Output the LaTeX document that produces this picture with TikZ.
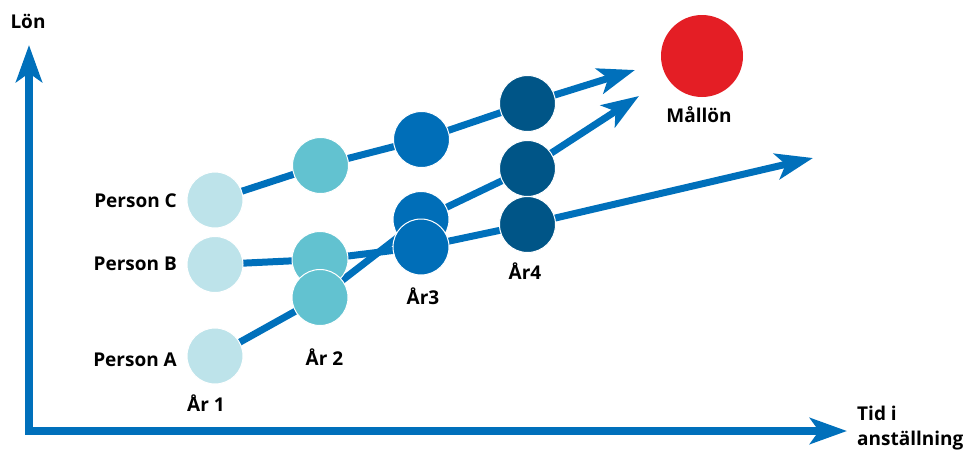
\documentclass[tikz,border=0pt]{standalone}
\usepackage{fontspec}
\setmainfont{Open Sans}
\usetikzlibrary{arrows.meta,backgrounds}
\definecolor{flowblue}{HTML}{0070BB}
\definecolor{yearone}{HTML}{BDE3EA}
\definecolor{yeartwo}{HTML}{62C2D0}
\definecolor{yearthree}{HTML}{006EB8}
\definecolor{yearfour}{HTML}{005587}
\definecolor{goalred}{HTML}{E41E25}
\tikzset{
  dot/.style={circle,minimum size=56pt,inner sep=0pt,draw=white,line width=1pt},
  d1/.style={dot,fill=yearone},
  d2/.style={dot,fill=yeartwo},
  d3/.style={dot,fill=yearthree},
  d4/.style={dot,fill=yearfour},
  lbl/.style={font=\fontsize{19}{25}\selectfont\bfseries,inner sep=0pt},
  track/.style={draw=flowblue,line width=7pt},
  trackarrow/.style={track,-{Stealth[length=37pt,width=26pt,inset=9pt]}},
  axisline/.style={draw=flowblue,line width=7.5pt,line join=miter,
    {Stealth[length=37pt,width=26pt,inset=9pt]}-{Stealth[length=37pt,width=26pt,inset=9pt]}}
}
\begin{document}
\begin{tikzpicture}[x=1pt,y=-1pt]
\useasboundingbox (0,0) rectangle (963,450);

% axes
\coordinate (origin) at (29,431);
\coordinate (ytip) at (29,45);
\coordinate (xtip) at (847,431);
\draw[axisline] (ytip) -- (origin) -- (xtip);
\node[lbl] (lon) at (28,21) {Lön};
\node[lbl,align=left,anchor=west] (tid) at (857,428) {Tid i\\anställning};

% year 1
\node[d1] (c1) at (215,200) {};
\node[d1] (b1) at (215,264.5) {};
\node[d1] (a1) at (215,356) {};
% year 2
\node[d2] (c2) at (320.5,165.5) {};
\node[d2] (b2) at (320,259.5) {};
\node[d2] (a2) at (320,297.5) {};
% year 3
\node[d3] (c3) at (421.5,139.5) {};
\node[d3] (a3) at (421,219.5) {};
\node[d3] (b3) at (421,247) {};
% year 4
\node[d4] (c4) at (527.5,103.5) {};
\node[d4] (a4) at (527.5,168.5) {};
\node[d4] (b4) at (527.5,224.5) {};

% goal
\node[circle,fill=goalred,minimum size=82pt,inner sep=0pt] (goal) at (702,56) {};
\node[lbl] (goallbl) at (699,114.5) {Mållön};

% arrow ends
\coordinate (ctip) at (635,70);
\coordinate (atip) at (639,96);
\coordinate (btip) at (813,158);

% salary tracks behind the dots
\begin{pgfonlayer}{background}
\draw[track] (c1.center) -- (c2.center) -- (c3.center) -- (c4.center);
\draw[trackarrow] (c4.center) -- (ctip);
\draw[track] (a1.center) -- (a2.center) -- (a3.center) -- (a4.center);
\draw[trackarrow] (a4.center) -- (atip);
\draw[track] (b1.center) -- (b2.center) -- (b3.center) -- (b4.center);
\draw[trackarrow] (b4.center) -- (btip);
\end{pgfonlayer}

% labels
\node[lbl,anchor=east] (pc) at (177,200.5) {Person C};
\node[lbl,anchor=east] (pb) at (177,264) {Person B};
\node[lbl,anchor=east] (pa) at (177,360) {Person A};
\node[lbl] (y1) at (206,403) {År 1};
\node[lbl] (y2) at (324.5,357.5) {År 2};
\node[lbl] (y3) at (423,296) {År3};
\node[lbl] (y4) at (525,271) {År4};
\end{tikzpicture}
\end{document}
